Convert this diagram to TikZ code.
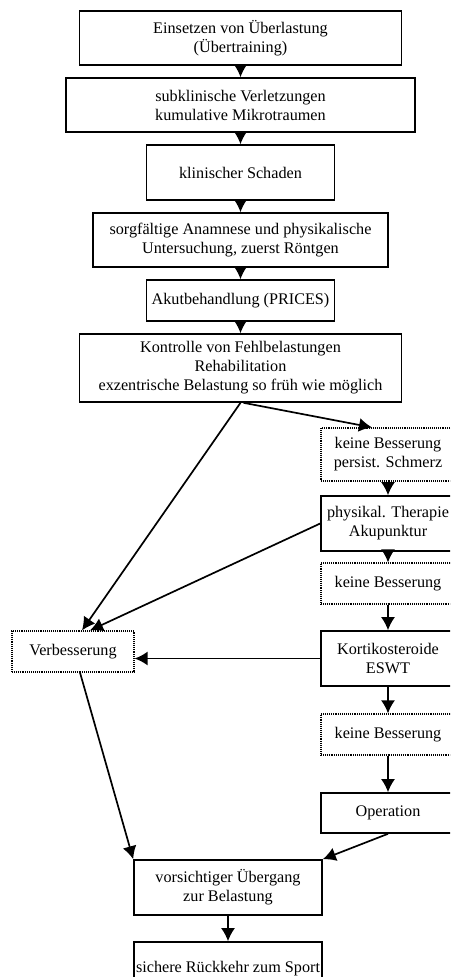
\documentclass[tikz,border=0pt]{standalone}
\usepackage{fontspec}
\setmainfont{Liberation Serif}
\usetikzlibrary{arrows.meta}
\begin{document}
\begin{tikzpicture}[x=1pt,y=-1pt,
  box/.style={draw, line width=1.6pt, align=center, inner sep=0pt,
    font=\fontsize{16.2}{19}\selectfont},
  dotbox/.style={box, line width=1.2pt, dash pattern=on 1pt off 0.9pt},
  conn/.style={line width=1.7pt, -{Latex[length=13pt,width=14pt]}}]
\useasboundingbox (0,0) rectangle (450,977);
\clip (0,0) rectangle (450,977);
\fill[white] (0,0) rectangle (450,977);
\node[box, minimum width=322, minimum height=54] (b1) at (240.5,38) {Einsetzen von Überlastung\\(Übertraining)};
\node[box, minimum width=349, minimum height=54] (b2) at (240.5,105) {subklinische Verletzungen\\kumulative Mikrotraumen};
\node[box, minimum width=188, minimum height=55] (b3) at (240.5,172.5) {klinischer Schaden};
\node[box, minimum width=295, minimum height=54] (b4) at (240.5,240) {sorgfältige Anamnese und physikalische\\Untersuchung, zuerst Röntgen};
\node[box, minimum width=188, minimum height=41] (b5) at (240.5,300.5) {Akutbehandlung (PRICES)};
\node[box, minimum width=322, minimum height=68] (b6) at (240.5,368) {Kontrolle von Fehlbelastungen\\Rehabilitation\\exzentrische Belastung so früh wie möglich};
\node[dotbox, minimum width=134, minimum height=53] (r1) at (388,454.5) {keine Besserung\\persist. Schmerz};
\node[box, minimum width=134, minimum height=55] (r2) at (388,523.5) {physikal. Therapie\\Akupunktur};
\node[dotbox, minimum width=134, minimum height=41] (r3) at (388,583.5) {keine Besserung};
\node[box, minimum width=134, minimum height=55] (r4) at (388,658.5) {Kortikosteroide\\ESWT};
\node[dotbox, minimum width=134, minimum height=41] (r5) at (388,734.5) {keine Besserung};
\node[box, minimum width=134, minimum height=40] (r6) at (388,813) {Operation};
\node[dotbox, minimum width=122, minimum height=41] (vb) at (73,651.5) {Verbesserung};
\node[box, minimum width=188, minimum height=55] (vo) at (228,887.5) {vorsichtiger Übergang\\zur Belastung};
\node[box, minimum width=188, minimum height=54] (si) at (228,969) {sichere Rückkehr zum Sport};
\draw[conn] (b1) -- (b2);
\draw[conn] (b2) -- (b3);
\draw[conn] (b3) -- (b4);
\draw[conn] (b4) -- (b5);
\draw[conn] (b5) -- (b6);
\draw[conn] ([xshift=3]b6.south) -- ([xshift=-16]r1.north);
\draw[conn] (b6.south) -- ([xshift=9]vb.north);
\draw[conn] (r1) -- (r2);
\draw[conn] (r2) -- (r3);
\draw[conn] (r3) -- (r4);
\draw[conn] (r4) -- (r5);
\draw[conn] (r5) -- (r6);
\draw[conn] (r2.west) -- ([xshift=17]vb.north);
\draw[conn] (r4.west) -- (r4.west -| vb.east);
\draw[conn] ([xshift=7]vb.south) -- (vo.north west);
\draw[conn] (r6.south) -- (vo.north east);
\draw[conn] (vo) -- (si);
\end{tikzpicture}
\end{document}
